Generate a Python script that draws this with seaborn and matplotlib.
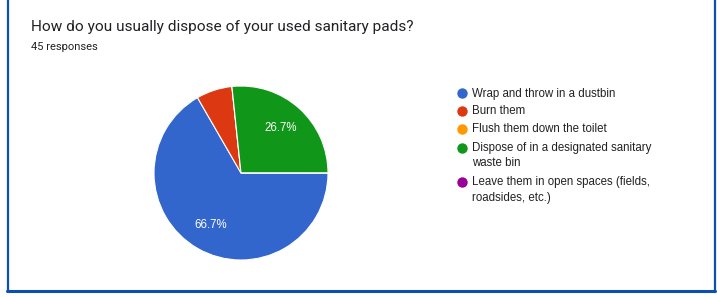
import matplotlib
matplotlib.use("Agg")
import matplotlib.pyplot as plt
from matplotlib.lines import Line2D
import seaborn as sns

title = "How do you usually dispose of your used sanitary pads?"
subtitle = "45 responses"
labels = ["Wrap and throw in a dustbin", "Burn them", "Flush them down the toilet",
          "Dispose of in a designated sanitary\nwaste bin",
          "Leave them in open spaces (fields,\nroadsides, etc.)"]
counts = [30, 3, 0, 12, 0]
colors = ["#3366cc", "#dc3912", "#ff9900", "#109618", "#990099"]

sns.set_theme(style="white")
plt.rcParams['font.family'] = ['Roboto', 'DejaVu Sans']
chart_font = ['Liberation Sans', 'DejaVu Sans']

W, H = 717, 297
fig = plt.figure(figsize=(W / 100, H / 100), dpi=100)
fig.patch.set_facecolor("white")

# full-figure overlay in pixel coordinates for text and legend
ov = fig.add_axes([0, 0, 1, 1])
ov.set_xlim(0, W)
ov.set_ylim(H, 0)
ov.axis("off")

ov.text(31, 27, title, fontsize=11.1, color="#202124", va="center", ha="left")
ov.text(31, 47, subtitle, fontsize=8, color="#202124", va="center", ha="left")

# pie
cx, cy, r = 241, 173, 87
pax = fig.add_axes([(cx - r) / W, (H - cy - r) / H, 2 * r / W, 2 * r / H])


def pct(p):
    return f"{p:.1f}%" if p >= 10 else ""


wedges, _, autotexts = pax.pie(counts, colors=colors, startangle=0, counterclock=False,
                               autopct=pct, pctdistance=0.69,
                               wedgeprops=dict(edgecolor="white", linewidth=0.8),
                               textprops=dict(color="white", fontsize=8.3, family=chart_font))
pax.set_xlim(-1, 1)
pax.set_ylim(-1, 1)
pax.set_aspect("equal")
pax.axis("off")

# legend, marker aligned with first text line
ys = [92.5, 110.5, 128.5, 147.5, 181.5]
for y, lab, c in zip(ys, labels, colors):
    ov.scatter([462], [y], s=56, color=c, zorder=3, linewidths=0)
    for i, line in enumerate(lab.split("\n")):
        ov.text(472.5, y + 4 + 15 * i, line, fontsize=8.3, color="#222222",
                va="baseline", ha="left", family=chart_font)

# frame
fc = "#0b4fb5"
fig.add_artist(Line2D([7.5 / W, 7.5 / W], [1, 1 - 291 / H], color=fc, lw=1.6))
fig.add_artist(Line2D([714.5 / W, 714.5 / W], [1, 1 - 291 / H], color=fc, lw=1.6))
fig.add_artist(Line2D([7 / W, 715 / W], [1 - 291 / H, 1 - 291 / H], color=fc, lw=2.2))

fig.savefig("out.png", dpi=100)
